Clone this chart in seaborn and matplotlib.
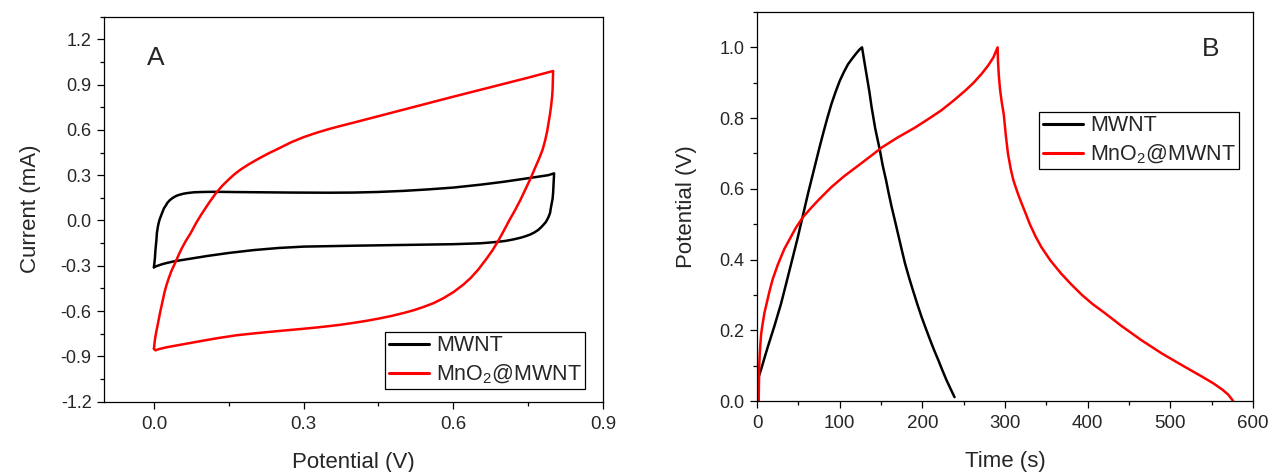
import pandas as pd
import matplotlib.pyplot as plt
from matplotlib.ticker import MultipleLocator
import seaborn as sns

# --- Panel A: cyclic voltammetry (potential V, current mA), closed loops ---
cv_mwnt_v = [0.000, 0.002, 0.003, 0.005, 0.006, 0.008, 0.010, 0.012, 0.014, 0.017,
             0.020, 0.024, 0.027, 0.032, 0.037, 0.042, 0.047, 0.053, 0.060, 0.070,
             0.081, 0.100, 0.120, 0.174, 0.274, 0.350, 0.400, 0.450, 0.500, 0.550,
             0.600, 0.654, 0.700, 0.754, 0.790, 0.802,
             0.8015, 0.801, 0.8005, 0.800, 0.799, 0.797, 0.795, 0.794, 0.791, 0.788,
             0.785, 0.781, 0.776, 0.770, 0.762, 0.754, 0.745, 0.735, 0.721, 0.705,
             0.690, 0.670, 0.654, 0.600, 0.500, 0.400, 0.300, 0.250, 0.200, 0.150,
             0.107, 0.075, 0.041, 0.025, 0.015, 0.003, 0.000]
cv_mwnt_i = [-0.310, -0.250, -0.200, -0.130, -0.082, -0.040, -0.010, 0.012, 0.029, 0.055,
             0.080, 0.100, 0.117, 0.135, 0.148, 0.158, 0.166, 0.172, 0.178, 0.183,
             0.187, 0.189, 0.190, 0.188, 0.185, 0.184, 0.185, 0.189, 0.196, 0.206,
             0.218, 0.237, 0.256, 0.282, 0.300, 0.312,
             0.280, 0.250, 0.215, 0.184, 0.145, 0.110, 0.075, 0.051, 0.025, 0.005,
             -0.012, -0.027, -0.045, -0.063, -0.080, -0.093, -0.104, -0.114, -0.125, -0.135,
             -0.141, -0.147, -0.151, -0.157, -0.162, -0.167, -0.173, -0.182, -0.196, -0.215,
             -0.235, -0.252, -0.270, -0.282, -0.291, -0.305, -0.310]

cv_mno2_v = [0.000, 0.001, 0.002, 0.004, 0.007, 0.010, 0.013, 0.017, 0.021, 0.025,
             0.030, 0.035, 0.041, 0.048, 0.055, 0.064, 0.074, 0.084, 0.095, 0.110,
             0.124, 0.137, 0.150, 0.162, 0.174, 0.190, 0.210, 0.230, 0.250, 0.275,
             0.300, 0.325, 0.350, 0.375, 0.400, 0.450, 0.500, 0.550, 0.600, 0.650,
             0.700, 0.750, 0.800,
             0.7995, 0.799, 0.798, 0.796, 0.794, 0.791, 0.788, 0.784, 0.779, 0.772,
             0.764, 0.755, 0.745, 0.735, 0.724, 0.712, 0.700, 0.690, 0.678, 0.665,
             0.650, 0.635, 0.620, 0.600, 0.580, 0.560, 0.540, 0.520, 0.500, 0.475,
             0.450, 0.425, 0.400, 0.375, 0.350, 0.325, 0.300, 0.250, 0.200, 0.166,
             0.130, 0.100, 0.075, 0.050, 0.025, 0.010, 0.003, 0.000]
cv_mno2_i = [-0.850, -0.820, -0.790, -0.750, -0.700, -0.650, -0.600, -0.540, -0.479, -0.430,
             -0.380, -0.335, -0.292, -0.240, -0.190, -0.135, -0.082, -0.020, 0.040, 0.115,
             0.180, 0.230, 0.272, 0.308, 0.338, 0.372, 0.410, 0.445, 0.477, 0.518,
             0.552, 0.580, 0.605, 0.627, 0.648, 0.691, 0.734, 0.777, 0.820, 0.862,
             0.904, 0.946, 0.990,
             0.930, 0.870, 0.820, 0.760, 0.710, 0.650, 0.590, 0.530, 0.470, 0.410,
             0.350, 0.280, 0.210, 0.140, 0.070, 0.000, -0.075, -0.135, -0.200, -0.260,
             -0.325, -0.380, -0.425, -0.475, -0.515, -0.548, -0.573, -0.595, -0.613, -0.633,
             -0.650, -0.665, -0.678, -0.690, -0.700, -0.709, -0.717, -0.732, -0.748, -0.760,
             -0.778, -0.795, -0.810, -0.825, -0.840, -0.852, -0.860, -0.850]

# --- Panel B: galvanostatic charge/discharge (time s, potential V) ---
gcd_mwnt_t = [0.5, 1.5, 5, 9, 13, 21, 29, 35, 42, 49, 55.5, 62, 70, 75, 80, 85, 90, 95,
              100, 105, 110, 115, 120, 124, 127,
              130, 133, 136, 138.5, 143, 148.6, 152, 156, 159, 162.8, 167, 171, 175, 179,
              184, 189, 194, 199, 204, 209, 214, 219.4, 224, 229, 234, 238.9]
gcd_mwnt_v = [0.0, 0.065, 0.09, 0.122, 0.153, 0.212, 0.275, 0.33, 0.395, 0.46, 0.525, 0.59,
              0.665, 0.712, 0.757, 0.80, 0.84, 0.874, 0.905, 0.93, 0.952, 0.968, 0.983,
              0.994, 1.0,
              0.957, 0.915, 0.873, 0.832, 0.77, 0.709, 0.666, 0.625, 0.59, 0.549, 0.508,
              0.468, 0.428, 0.389, 0.348, 0.31, 0.273, 0.238, 0.206, 0.175, 0.145, 0.115,
              0.088, 0.06, 0.035, 0.011]

gcd_mno2_t = [2, 2.3, 2.7, 3.2, 4, 5, 6.5, 9, 12, 15, 19, 25, 33, 40, 47, 55.5, 65, 75,
              90, 105, 126, 140, 151, 170, 191, 207, 223, 238, 252, 262, 272, 280, 286, 291,
              291.5, 292.5, 294, 296, 298.5, 301, 303.5, 307, 310, 315, 319.5, 325, 330,
              337, 344, 355, 368, 380, 393, 406, 420, 441, 465, 490, 515, 539, 552, 563,
              570, 576]
gcd_mno2_v = [0.0, 0.05, 0.10, 0.13, 0.16, 0.19, 0.215, 0.25, 0.28, 0.31, 0.345, 0.385,
              0.43, 0.46, 0.49, 0.52, 0.545, 0.57, 0.605, 0.635, 0.672, 0.697, 0.717, 0.745,
              0.773, 0.797, 0.822, 0.85, 0.878, 0.90, 0.926, 0.95, 0.972, 1.0,
              0.96, 0.92, 0.88, 0.845, 0.81, 0.75, 0.70, 0.655, 0.625, 0.59, 0.562, 0.53,
              0.50, 0.465, 0.435, 0.397, 0.36, 0.33, 0.30, 0.274, 0.25, 0.212, 0.172, 0.134,
              0.10, 0.068, 0.05, 0.032, 0.018, 0.0]

labels = ["MWNT", "MnO$_2$@MWNT"]
colors = ["black", "red"]

sns.set_theme(style="ticks")
plt.rcParams['font.family'] = ['Liberation Sans', 'DejaVu Sans']
plt.rcParams['mathtext.default'] = 'regular'
plt.rcParams['axes.unicode_minus'] = False
plt.rcParams['axes.linewidth'] = 0.9
plt.rcParams['axes.edgecolor'] = 'black'

fig = plt.figure(figsize=(12.73, 4.72), dpi=100)
ax_a = fig.add_axes([0.0817, 0.149, 0.392, 0.8157])
ax_b = fig.add_axes([0.5947, 0.1504, 0.3896, 0.8242])

cv_a = pd.DataFrame({'v': cv_mwnt_v, 'i': cv_mwnt_i})
cv_b = pd.DataFrame({'v': cv_mno2_v, 'i': cv_mno2_i})
sns.lineplot(data=cv_a, x='v', y='i', sort=False, estimator=None, color=colors[0],
             linewidth=1.8, label=labels[0], ax=ax_a)
sns.lineplot(data=cv_b, x='v', y='i', sort=False, estimator=None, color=colors[1],
             linewidth=1.8, label=labels[1], ax=ax_a)

gc_a = pd.DataFrame({'t': gcd_mwnt_t, 'v': gcd_mwnt_v})
gc_b = pd.DataFrame({'t': gcd_mno2_t, 'v': gcd_mno2_v})
sns.lineplot(data=gc_a, x='t', y='v', sort=False, estimator=None, color=colors[0],
             linewidth=1.8, label=labels[0], ax=ax_b)
sns.lineplot(data=gc_b, x='t', y='v', sort=False, estimator=None, color=colors[1],
             linewidth=1.8, label=labels[1], ax=ax_b)

# axis ranges and ticks
ax_a.set_xlim(-0.1, 0.9)
ax_a.set_ylim(-1.2, 1.35)
ax_a.set_xticks([0.0, 0.3, 0.6, 0.9])
ax_a.set_xticklabels(['0.0', '0.3', '0.6', '0.9'])
ax_a.xaxis.set_minor_locator(MultipleLocator(0.15))
ax_a.set_yticks([-1.2, -0.9, -0.6, -0.3, 0.0, 0.3, 0.6, 0.9, 1.2])
ax_a.set_yticklabels(['-1.2', '-0.9', '-0.6', '-0.3', '0.0', '0.3', '0.6', '0.9', '1.2'])
ax_a.yaxis.set_minor_locator(MultipleLocator(0.15))

ax_b.set_xlim(0, 600)
ax_b.set_ylim(0, 1.1)
ax_b.xaxis.set_major_locator(MultipleLocator(100))
ax_b.xaxis.set_minor_locator(MultipleLocator(50))
ax_b.set_yticks([0.0, 0.2, 0.4, 0.6, 0.8, 1.0])
ax_b.set_yticklabels(['0.0', '0.2', '0.4', '0.6', '0.8', '1.0'])
ax_b.yaxis.set_minor_locator(MultipleLocator(0.1))

for ax in (ax_a, ax_b):
    for s in ax.spines.values():
        s.set_visible(True)
        s.set_color('black')
    ax.tick_params(which='major', direction='out', length=5, width=0.9, color='black')
    ax.tick_params(which='minor', direction='out', length=3, width=0.9, color='black')
    ax.tick_params(axis='x', labelsize=13.5, pad=5)
    ax.tick_params(axis='y', labelsize=13, pad=4)
    ax.tick_params(top=False, right=False, which='both')

ax_a.set_xlabel('Potential (V)', fontsize=16, labelpad=14)
ax_a.set_ylabel('Current (mA)', fontsize=16, labelpad=14)
ax_b.set_xlabel('Time (s)', fontsize=16, labelpad=14)
ax_b.set_ylabel('Potential (V)', fontsize=16, labelpad=16)

ax_a.text(0.104, 0.893, 'A', transform=ax_a.transAxes, fontsize=19,
          ha='center', va='center')
ax_b.text(0.915, 0.905, 'B', transform=ax_b.transAxes, fontsize=19,
          ha='center', va='center')

legend_kw = dict(fontsize=15.5, frameon=True, fancybox=False, framealpha=1,
                 edgecolor='black', handlelength=1.9, handletextpad=0.3,
                 borderpad=0.15, labelspacing=0.3, borderaxespad=0)
leg_a = ax_a.legend(loc='lower right', bbox_to_anchor=(0.964, 0.032), **legend_kw)
leg_b = ax_b.legend(loc='upper right', bbox_to_anchor=(0.972, 0.743), **legend_kw)
for leg in (leg_a, leg_b):
    leg.get_frame().set_linewidth(0.9)
    for line in leg.get_lines():
        line.set_linewidth(2.2)

plt.savefig('out.png', dpi=100)
